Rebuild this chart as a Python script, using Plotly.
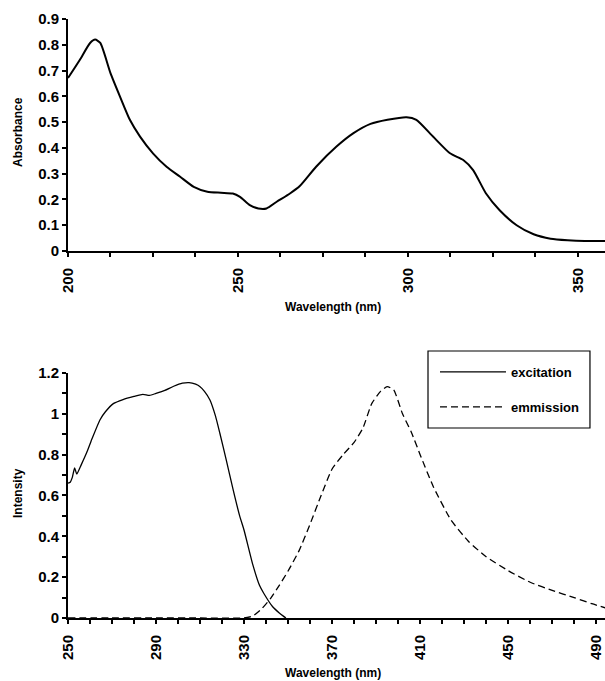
import plotly.graph_objects as go

# --- Absorbance spectrum (top) ---
abs_wl = [200, 203.5, 206.5, 208, 209.5, 212.5, 215.3, 218.2, 221.2, 225, 229, 233, 237, 241, 245,
          248.5, 250.6, 253.5, 256, 258.4, 261.4, 265.3, 268.2, 273, 279, 284, 289, 294, 299.6,
          302.5, 307.4, 312.4, 316.3, 319.2, 323, 327, 332, 337, 342, 347, 352, 358]
abs_val = [0.671, 0.742, 0.807, 0.82, 0.807, 0.69, 0.599, 0.509, 0.444, 0.379, 0.327, 0.288, 0.249,
           0.23, 0.226, 0.223, 0.21, 0.178, 0.165, 0.165, 0.191, 0.223, 0.252, 0.327, 0.405, 0.457,
           0.493, 0.509, 0.519, 0.509, 0.444, 0.379, 0.353, 0.314, 0.223, 0.158, 0.1, 0.065, 0.048,
           0.042, 0.039, 0.039]

# --- Excitation spectrum (bottom) ---
exc_wl = [250, 251, 252, 253, 254, 256, 258.5, 261, 264.5, 267, 270.6, 275, 280, 284, 287, 290, 294,
          298, 302, 305, 308, 310, 312, 314.5, 317, 319, 322, 325, 328, 330, 334, 337, 339, 343, 346,
          348, 349]
exc_val = [0.66, 0.665, 0.69, 0.735, 0.705, 0.75, 0.81, 0.88, 0.97, 1.01, 1.05, 1.07, 1.085, 1.095,
           1.09, 1.10, 1.115, 1.135, 1.15, 1.153, 1.145, 1.133, 1.11, 1.068, 0.99, 0.905, 0.77, 0.63,
           0.50, 0.43, 0.26, 0.16, 0.12, 0.055, 0.025, 0.008, 0]

# --- Emission spectrum (bottom) ---
emi_wl = [250, 270, 290, 310, 330, 334, 338, 342, 346, 350, 355, 360, 365, 370, 375, 380, 384, 388,
          392, 395, 398, 402, 406, 410, 416, 424, 432, 440, 450, 460, 470, 480, 488, 495]
emi_val = [0, 0, 0, 0, 0, 0.01, 0.045, 0.095, 0.16, 0.23, 0.33, 0.46, 0.60, 0.73, 0.80, 0.86, 0.93,
           1.05, 1.11, 1.133, 1.117, 1.0, 0.91, 0.80, 0.643, 0.48, 0.375, 0.30, 0.232, 0.175, 0.135,
           0.1, 0.07, 0.047]

top_ticks = [200, 250, 300, 350]
bot_ticks = [250, 290, 330, 370, 410, 450, 490]

FONT = "Liberation Sans"

fig = go.Figure()
fig.add_trace(go.Scatter(x=abs_wl, y=abs_val, mode="lines", xaxis="x", yaxis="y",
                         line=dict(color="black", width=2, shape="spline", smoothing=0.6),
                         showlegend=False))
fig.add_trace(go.Scatter(x=exc_wl, y=exc_val, mode="lines", xaxis="x2", yaxis="y2",
                         name="excitation", legendgroup="a",
                         line=dict(color="black", width=1.3, shape="spline", smoothing=0.5)))
fig.add_trace(go.Scatter(x=emi_wl, y=emi_val, mode="lines", xaxis="x2", yaxis="y2",
                         name="emmission", legendgroup="b",
                         line=dict(color="black", width=1.3, dash="7px,4px", shape="spline",
                                   smoothing=0.5)))

tickfont = dict(family=FONT, size=15, color="black", weight="bold")
common_axis = dict(showgrid=False, zeroline=False, showline=True, linecolor="black", linewidth=2,
                   ticks="outside", ticklen=4, tickwidth=1.5, tickcolor="black",
                   tickfont=tickfont, automargin=False)
title_font = dict(family=FONT, size=12, color="black", weight="bold")

fig.update_layout(
    width=605, height=681,
    margin=dict(l=68, r=0, t=0, b=0),
    paper_bgcolor="white", plot_bgcolor="white",
    xaxis=dict(common_axis, domain=[0, 1], anchor="y", range=[200, 358],
               tickvals=top_ticks, tickangle=-90, ticklabelstandoff=5,
               minor=dict(dtick=12.5, tick0=200, ticks="outside", ticklen=4, tickcolor="black")),
    yaxis=dict(common_axis, domain=[0.6314, 0.9721], anchor="x", range=[0, 0.9], dtick=0.1,
               tickformat=".1~f"),
    xaxis2=dict(common_axis, domain=[0, 1], anchor="y2", range=[250, 494],
                tickvals=bot_ticks, tickangle=-90, ticklabelstandoff=5,
                minor=dict(dtick=10, tick0=250, ticks="outside", ticklen=4, tickcolor="black")),
    yaxis2=dict(common_axis, domain=[0.0925, 0.4523], anchor="x2", range=[0, 1.2], dtick=0.2,
                tickformat=".1~f",
                minor=dict(dtick=0.1, ticks="outside", ticklen=4, tickcolor="black")),
    legend=dict(x=0.6834, y=0.4758, xanchor="left", yanchor="top",
                borderwidth=0, bgcolor="rgba(0,0,0,0)",
                font=dict(family=FONT, size=13, color="black", weight="bold"),
                tracegroupgap=15, itemwidth=66, traceorder="grouped"),
    shapes=[dict(type="rect", xref="paper", yref="paper",
                 x0=0.6704, x1=0.972, y0=0.3715, y1=0.4846,
                 line=dict(color="black", width=1.2), fillcolor="white", layer="below")],
    annotations=[
        dict(text="Wavelength (nm)", xref="paper", yref="paper", x=0.494, y=1 - 307 / 681,
             xanchor="center", yanchor="middle", showarrow=False, font=title_font),
        dict(text="Wavelength (nm)", xref="paper", yref="paper", x=0.494, y=1 - 673 / 681,
             xanchor="center", yanchor="middle", showarrow=False, font=title_font),
        dict(text="Absorbance", xref="paper", yref="paper", x=-50 / 537, y=1 - 132 / 681,
             xanchor="center", yanchor="middle", textangle=-90, showarrow=False, font=title_font),
        dict(text="Intensity", xref="paper", yref="paper", x=-50 / 537, y=1 - 493 / 681,
             xanchor="center", yanchor="middle", textangle=-90, showarrow=False, font=title_font),
    ],
)

fig.write_html("out.html", config={"displayModeBar": False},
               post_script="document.body.style.margin='0px';document.body.style.overflow='hidden';")
